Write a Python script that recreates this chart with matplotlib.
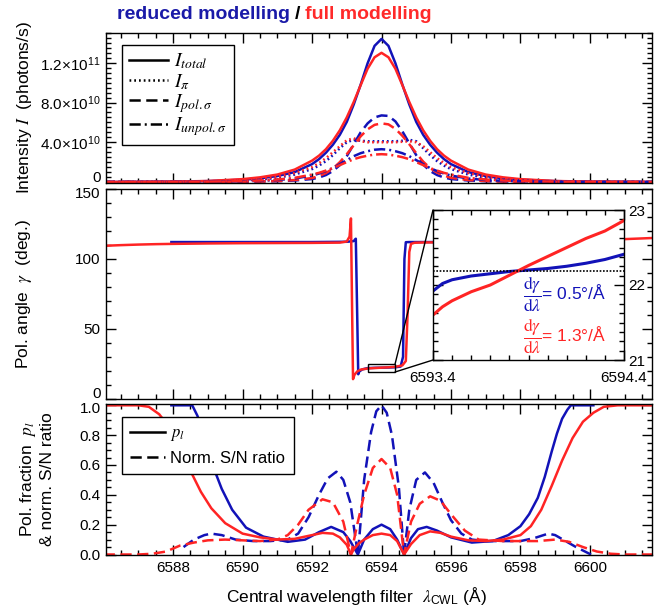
import numpy as np
import matplotlib
matplotlib.use("Agg")
import matplotlib.pyplot as plt
import matplotlib.transforms as mtransforms
from matplotlib.ticker import MultipleLocator
from matplotlib.patches import Rectangle, ConnectionPatch
from matplotlib.lines import Line2D

plt.rcParams.update({
    "font.family": "Liberation Sans",
    "mathtext.fontset": "stix",
    "axes.linewidth": 1.0,
    "xtick.direction": "in",
    "ytick.direction": "in",
    "xtick.labelsize": 11,
    "ytick.labelsize": 11,
})

BLUE = "#1212b8"
RED = "#ff2424"

# --- top panel: intensities (units of 1e10 photons/s) ---
lam_top = [6586.0, 6587.0, 6588.0, 6589.0, 6590.0, 6590.5, 6591.0, 6591.5, 6592.0,
           6592.2, 6592.4, 6592.6, 6592.8, 6593.0, 6593.2, 6593.4, 6593.6, 6593.8,
           6594.0, 6594.2, 6594.4, 6594.6, 6594.8, 6595.0, 6595.2, 6595.4, 6595.6,
           6595.8, 6596.0, 6596.5, 6597.0, 6597.5, 6598.0, 6599.0, 6600.0, 6601.0, 6602.0]

tot_red_mod = [0.0, 0.01, 0.03, 0.09, 0.23, 0.37, 0.6, 1.0, 1.8, 2.3, 2.95, 3.75, 4.75, 6.05, 7.8, 9.8, 11.95, 13.7,
               14.4,
               13.7, 11.95, 9.8, 7.8, 6.05, 4.75, 3.75, 2.95, 2.3, 1.8, 1.0, 0.6, 0.37, 0.23, 0.09, 0.03, 0.01, 0.0]
tot_full_mod = [0.0, 0.015, 0.04, 0.1, 0.29, 0.47, 0.75, 1.25, 2.15, 2.65, 3.3, 4.15, 5.2, 6.5, 8.05, 9.75, 11.4, 12.55,
                13.0,
                12.55, 11.4, 9.75, 8.05, 6.5, 5.2, 4.15, 3.3, 2.65, 2.15, 1.25, 0.75, 0.47, 0.29, 0.1, 0.04, 0.015, 0.0]
pi_red_mod = [0.0, 0.0, 0.01, 0.04, 0.15, 0.25, 0.42, 0.75, 1.3, 1.65, 2.1, 2.7, 3.4, 4.0, 4.25, 4.15, 4.1, 4.1,
              4.1,
              4.1, 4.1, 4.15, 4.25, 4.1, 3.4, 2.7, 2.1, 1.65, 1.3, 0.75, 0.42, 0.25, 0.15, 0.04, 0.01, 0.0, 0.0]
pi_full_mod = [0.0, 0.005, 0.02, 0.06, 0.2, 0.32, 0.52, 0.9, 1.5, 1.9, 2.4, 3.0, 3.6, 4.2, 4.4, 4.1, 4.0, 4.0,
               4.0,
               4.0, 4.0, 4.05, 4.1, 4.0, 3.6, 3.0, 2.4, 1.9, 1.5, 0.9, 0.52, 0.32, 0.2, 0.06, 0.02, 0.005, 0.0]
pol_red_mod = [0.0, 0.0, 0.0, 0.01, 0.03, 0.05, 0.08, 0.15, 0.3, 0.45, 0.7, 1.1, 1.7, 2.6, 3.8, 5.0, 5.9, 6.5,
               6.7,
               6.65, 6.1, 5.1, 3.9, 2.7, 1.75, 1.1, 0.7, 0.45, 0.3, 0.15, 0.08, 0.05, 0.03, 0.01, 0.0, 0.0, 0.0]
pol_full_mod = [0.0, 0.0, 0.0, 0.01, 0.03, 0.05, 0.1, 0.2, 0.4, 0.6, 0.9, 1.35, 2.0, 2.8, 3.7, 4.6, 5.3, 5.75,
                5.9,
                5.8, 5.35, 4.65, 3.8, 2.9, 2.05, 1.4, 0.95, 0.65, 0.42, 0.2, 0.1, 0.05, 0.03, 0.01, 0.0, 0.0, 0.0]
unp_red_mod = [0.0, 0.0, 0.0, 0.02, 0.07, 0.12, 0.2, 0.35, 0.65, 0.85, 1.1, 1.4, 1.8, 2.2, 2.6, 2.9, 3.1, 3.25,
               3.3,
               3.25, 3.1, 2.9, 2.6, 2.2, 1.8, 1.4, 1.1, 0.85, 0.65, 0.35, 0.2, 0.12, 0.07, 0.02, 0.0, 0.0, 0.0]
unp_full_mod = [0.0, 0.0, 0.01, 0.03, 0.09, 0.15, 0.25, 0.42, 0.75, 0.92, 1.15, 1.4, 1.7, 2.0, 2.3, 2.5, 2.65, 2.76,
                2.8,
                2.76, 2.65, 2.5, 2.3, 2.0, 1.7, 1.4, 1.15, 0.92, 0.75, 0.42, 0.25, 0.15, 0.09, 0.03, 0.01, 0.0, 0.0]

# --- middle panel: polarisation angle (deg) ---
lam_gam_red = [6586.0, 6586.5, 6587.0, 6587.5, 6588.0, 6589.0, 6590.0, 6591.0, 6592.0, 6592.8, 6593.0,
               6593.08, 6593.12, 6593.15, 6593.18, 6593.22, 6593.3, 6593.4, 6593.6, 6593.8, 6594.0, 6594.2,
               6594.4, 6594.6, 6594.7, 6594.75, 6594.8, 6594.85, 6594.95, 6595.2, 6596.0, 6598.0, 6600.0,
               6601.0, 6601.8]
gam_red = [109.4, 109.9, 110.3, 110.6, 110.8, 111.1, 111.3, 111.4, 111.5, 111.7, 112.5,
           116.0, 129.0, 70.0, 14.0, 17.0, 19.5, 20.8, 21.6, 21.95, 22.2, 22.45,
           22.85, 23.8, 27.0, 60.0, 105.0, 110.8, 111.6, 111.8, 112.0, 112.6, 113.4,
           114.2, 115.0]
lam_gam_blue = [6587.95, 6589.0, 6590.0, 6591.0, 6592.0, 6593.0, 6593.2, 6593.26, 6593.3, 6593.33,
                6593.36, 6593.45, 6593.6, 6593.8, 6594.0, 6594.2, 6594.4, 6594.55, 6594.62, 6594.66,
                6594.7, 6594.8, 6596.0, 6598.0, 6600.1]
gam_blue = [112.1, 112.1, 112.1, 112.1, 112.1, 112.3, 112.8, 114.5, 60.0, 17.5,
            19.5, 21.0, 21.9, 22.1, 22.2, 22.3, 22.5, 23.0, 30.0, 100.0,
            112.0, 112.1, 112.1, 112.1, 112.1]

# inset (zoom of the gamma plateau)
lam_ins = [6593.4, 6593.45, 6593.5, 6593.6, 6593.7, 6593.8, 6593.9, 6594.0, 6594.1, 6594.2, 6594.3, 6594.4]
ins_blue = [21.92, 22.02, 22.07, 22.12, 22.15, 22.18, 22.2, 22.22, 22.25, 22.29, 22.34, 22.41]
ins_red = [21.6, 21.71, 21.79, 21.91, 22.0, 22.13, 22.26, 22.38, 22.5, 22.62, 22.72, 22.86]
gam_ref = 22.19

# --- bottom panel: pol. fraction and normalised S/N ---
lam_pl_red = [6586.0, 6586.5, 6587.0, 6587.3, 6587.6, 6587.9, 6588.2, 6588.5, 6588.8, 6589.1, 6589.5,
              6590.0, 6590.5, 6591.0, 6591.5, 6592.0, 6592.3, 6592.6, 6592.8, 6593.0, 6593.12, 6593.2,
              6593.35, 6593.5, 6593.75, 6594.0, 6594.25, 6594.45, 6594.65, 6594.85, 6595.1, 6595.4,
              6595.7, 6596.0, 6596.5, 6597.0, 6597.5, 6598.0, 6598.3, 6598.6, 6598.9, 6599.2, 6599.5,
              6599.8, 6600.1, 6600.4, 6600.8, 6601.8]
pl_red = [1.0, 1.0, 1.0, 0.99, 0.94, 0.85, 0.73, 0.56, 0.42, 0.31, 0.21,
          0.14, 0.115, 0.1, 0.105, 0.13, 0.145, 0.14, 0.115, 0.065, 0.0, 0.035,
          0.075, 0.1, 0.13, 0.14, 0.13, 0.09, 0.0, 0.07, 0.13, 0.155,
          0.145, 0.12, 0.095, 0.09, 0.1, 0.13, 0.19, 0.3, 0.46, 0.63, 0.78,
          0.89, 0.95, 0.99, 1.0, 1.0]
lam_pl_blue = [6587.95, 6588.55, 6588.7, 6588.85, 6589.0, 6589.2, 6589.4, 6589.7, 6590.1, 6590.6,
               6591.3, 6591.8, 6592.2, 6592.55, 6592.9, 6593.1, 6593.32, 6593.5, 6593.75, 6594.0,
               6594.25, 6594.45, 6594.65, 6594.85, 6595.05, 6595.3, 6595.6, 6596.0, 6596.6, 6597.2,
               6597.65, 6598.0, 6598.25, 6598.5, 6598.7, 6598.9, 6599.05, 6599.2, 6599.35, 6599.45, 6600.1]
pl_blue = [1.0, 1.0, 0.93, 0.82, 0.71, 0.56, 0.44, 0.3, 0.18, 0.12,
           0.085, 0.1, 0.15, 0.185, 0.15, 0.09, 0.0, 0.1, 0.17, 0.2,
           0.17, 0.1, 0.0, 0.11, 0.17, 0.185, 0.16, 0.115, 0.08, 0.09,
           0.13, 0.19, 0.27, 0.38, 0.52, 0.69, 0.81, 0.91, 0.97, 1.0, 1.0]
lam_sn_blue = [6588.3, 6588.6, 6588.9, 6589.1, 6589.4, 6589.8, 6590.3, 6590.8, 6591.3, 6591.6, 6591.9,
               6592.2, 6592.45, 6592.7, 6592.9, 6593.1, 6593.32, 6593.5, 6593.7, 6593.85, 6594.0,
               6594.15, 6594.3, 6594.5, 6594.65, 6594.8, 6595.0, 6595.25, 6595.5, 6595.75, 6596.0,
               6596.3, 6596.6, 6597.0, 6597.5, 6598.0, 6598.4, 6598.8, 6599.0, 6599.3, 6599.6, 6600.03]
sn_blue = [0.05, 0.1, 0.13, 0.14, 0.13, 0.1, 0.09, 0.09, 0.1, 0.14, 0.25,
           0.4, 0.51, 0.555, 0.5, 0.35, 0.0, 0.5, 0.82, 0.96, 1.0,
           0.95, 0.8, 0.45, 0.0, 0.3, 0.5, 0.55, 0.48, 0.35, 0.23,
           0.14, 0.1, 0.09, 0.09, 0.09, 0.11, 0.14, 0.13, 0.09, 0.05, 0.0]
lam_sn_red = [6586.0, 6587.0, 6587.4, 6587.8, 6588.2, 6588.6, 6589.0, 6589.5, 6590.0, 6590.5, 6591.0,
              6591.3, 6591.6, 6591.9, 6592.3, 6592.6, 6592.9, 6593.12, 6593.3, 6593.5, 6593.75, 6594.0,
              6594.25, 6594.45, 6594.65, 6594.85, 6595.1, 6595.4, 6595.7, 6596.0, 6596.4, 6596.8,
              6597.5, 6598.0, 6598.5, 6599.0, 6599.4, 6599.8, 6600.2, 6600.6, 6601.0, 6601.8]
sn_red = [0.0, 0.0, 0.005, 0.02, 0.06, 0.08, 0.095, 0.1, 0.095, 0.09, 0.1,
          0.13, 0.2, 0.3, 0.37, 0.35, 0.22, 0.0, 0.2, 0.4, 0.58, 0.64,
          0.58, 0.4, 0.0, 0.22, 0.34, 0.39, 0.36, 0.27, 0.16, 0.1,
          0.09, 0.09, 0.09, 0.1, 0.085, 0.05, 0.02, 0.005, 0.0, 0.0]

XLIM = (6586.07, 6601.78)
LW = 1.8
DASH = (0, (4.5, 2.2))
DOT = (0, (0.7, 1.2))
DASHDOT = (0, (4.5, 1.6, 0.8, 1.6))


def style(ax):
    ax.set_xlim(*XLIM)
    ax.xaxis.set_major_locator(MultipleLocator(2))
    ax.xaxis.set_minor_locator(MultipleLocator(0.5))
    ax.tick_params(which="both", direction="in", top=True, right=True, pad=4)
    ax.tick_params(which="major", length=7, width=1)
    ax.tick_params(which="minor", length=3.5, width=1)


def shift_ylabel(ax, idx, dy_px):
    # nudge one y tick label up/down (pixels), the way the original plot offsets them
    lab = ax.yaxis.get_majorticklabels()[idx]
    lab.set_transform(lab.get_transform()
                      + mtransforms.ScaledTranslation(0, dy_px / 100, fig.dpi_scale_trans))


fig = plt.figure(figsize=(6.63, 6.10), dpi=100)
ax1 = fig.add_axes([0.160, 0.700, 0.823, 0.246])
ax2 = fig.add_axes([0.160, 0.3464, 0.823, 0.3436])
ax3 = fig.add_axes([0.160, 0.090, 0.823, 0.2485])

# title in two colours
fig.text(0.4374, 0.977, "reduced modelling", color="#1a1aa8", fontsize=14, fontweight="bold",
         ha="right", va="center")
fig.text(0.448, 0.977, "/", color="k", fontsize=14, fontweight="bold", ha="center", va="center")
fig.text(0.460, 0.977, "full modelling", color="#ff2a2a", fontsize=14, fontweight="bold",
         ha="left", va="center")

# ---- top panel ----
lt = np.array(lam_top)
for data_b, data_r, ls in [(tot_red_mod, tot_full_mod, "-"), (pi_red_mod, pi_full_mod, DOT),
                           (pol_red_mod, pol_full_mod, DASH), (unp_red_mod, unp_full_mod, DASHDOT)]:
    ax1.plot(lt, np.array(data_b) * 1e10, color=BLUE, lw=LW, ls=ls)
    ax1.plot(lt, np.array(data_r) * 1e10, color=RED, lw=LW, ls=ls)
style(ax1)
ax1.set_ylim(-0.1e10, 1.5e11)
ax1.set_yticks([0, 4e10, 8e10, 1.2e11],
               ["0", r"4.0×10$^{\mathregular{10}}$", r"8.0×10$^{\mathregular{10}}$",
                r"1.2×10$^{\mathregular{11}}$"])
ax1.yaxis.set_minor_locator(MultipleLocator(0.5e10))
ax1.tick_params(axis="x", labelbottom=False)
ax1.set_ylabel(r"Intensity $I$  (photons/s)", fontsize=12.5)
ax1.yaxis.set_label_coords(-0.132, 0.5)
shift_ylabel(ax1, 0, 6)

handles = [Line2D([], [], color="k", lw=LW, ls=s) for s in ["-", DOT, DASH, DASHDOT]]
labels = [r"$I_{total}$", r"$I_{\pi}$", r"$I_{pol.\sigma}$", r"$I_{unpol.\sigma}$"]
leg = ax1.legend(handles, labels, loc="upper left", bbox_to_anchor=(0.029, 0.92), fontsize=14,
                 fancybox=False, edgecolor="k", framealpha=1, handlelength=2.0, handletextpad=0.35,
                 labelspacing=0.02, borderpad=0.35, borderaxespad=0)
leg.get_frame().set_linewidth(1.0)

# ---- middle panel ----
ax2.plot(lam_gam_blue, gam_blue, color=BLUE, lw=LW)
ax2.plot(lam_gam_red, gam_red, color=RED, lw=LW)
style(ax2)
ax2.set_ylim(0, 150)
ax2.set_yticks([0, 50, 100, 150])
ax2.yaxis.set_minor_locator(MultipleLocator(10))
ax2.tick_params(axis="x", labelbottom=False)
ax2.set_ylabel(r"Pol. angle  $\gamma$  (deg.)", fontsize=12.5)
ax2.yaxis.set_label_coords(-0.132, 0.5)
shift_ylabel(ax2, 0, 6)
shift_ylabel(ax2, 3, -3)

box = Rectangle((6593.61, 19.1), 0.78, 5.7, fill=False, edgecolor="k", lw=1.0, zorder=5)
ax2.add_patch(box)

axins = fig.add_axes([433 / 663, 1 - 360 / 610, 191 / 663, 150 / 610])
axins.plot(lam_ins, ins_blue, color=BLUE, lw=2.2)
axins.plot(lam_ins, ins_red, color=RED, lw=2.2)
axins.axhline(gam_ref, color="k", lw=1.2, ls=(0, (1, 1)))
axins.set_xlim(6593.4, 6594.4)
axins.set_ylim(21, 23)
axins.set_xticks([6593.4, 6594.4], ["6593.4", "6594.4"])
axins.xaxis.set_minor_locator(MultipleLocator(0.1))
axins.set_yticks([21, 22, 23])
axins.yaxis.set_minor_locator(MultipleLocator(0.125))
axins.tick_params(which="both", direction="in", top=True, right=True, left=True,
                  labelleft=False, labelright=True, pad=3)
axins.tick_params(axis="x", pad=8)
axins.tick_params(which="major", length=7, width=1)
axins.tick_params(which="minor", length=3.5, width=1)
axins.text(0.47, 0.44, r"$\dfrac{\mathrm{d}\gamma}{\mathrm{d}\lambda}$= 0.5°/Å", color=BLUE,
           fontsize=12.5, transform=axins.transAxes, ha="left", va="center")
axins.text(0.47, 0.155, r"$\dfrac{\mathrm{d}\gamma}{\mathrm{d}\lambda}$= 1.3°/Å", color=RED,
           fontsize=12.5, transform=axins.transAxes, ha="left", va="center")

for yb, ya in [(24.8, 1.0), (19.1, 0.0)]:
    con = ConnectionPatch(xyA=(6594.39, yb), coordsA=ax2.transData, xyB=(0.0, ya),
                          coordsB=axins.transAxes, color="k", lw=1.0)
    fig.add_artist(con)

# ---- bottom panel ----
ax3.plot(lam_pl_blue, pl_blue, color=BLUE, lw=LW)
ax3.plot(lam_sn_blue, sn_blue, color=BLUE, lw=LW, ls=DASH)
ax3.plot(lam_pl_red, pl_red, color=RED, lw=LW)
ax3.plot(lam_sn_red, sn_red, color=RED, lw=LW, ls=DASH)
style(ax3)
ax3.set_ylim(-0.004, 1.012)
ax3.set_yticks([0.0, 0.2, 0.4, 0.6, 0.8, 1.0])
ax3.yaxis.set_minor_locator(MultipleLocator(0.05))
ax3.yaxis.set_major_formatter(plt.FormatStrFormatter("%.1f"))
ax3.set_xlabel(r"Central wavelength filter  $\lambda_{\mathregular{CWL}}$ (Å)", fontsize=12.5,
               labelpad=6)
ax3.xaxis.set_label_coords(0.458, -0.2)
ax3.set_ylabel("Pol. fraction  $p_l$\n& norm. S/N ratio", fontsize=12.5)
ax3.yaxis.set_label_coords(-0.093, 0.5)
shift_ylabel(ax3, 5, -2)

handles3 = [Line2D([], [], color="k", lw=LW, ls="-"), Line2D([], [], color="k", lw=LW, ls=DASH)]
leg3 = ax3.legend(handles3, [r"$p_l$", "Norm. S/N ratio"], loc="upper left",
                  bbox_to_anchor=(0.029, 0.911), fontsize=12, fancybox=False, edgecolor="k",
                  framealpha=1, handlelength=2.1, handletextpad=0.3, labelspacing=0.45,
                  borderpad=0.5, borderaxespad=0)
leg3.get_frame().set_linewidth(1.0)

fig.savefig("out.png", dpi=100)
